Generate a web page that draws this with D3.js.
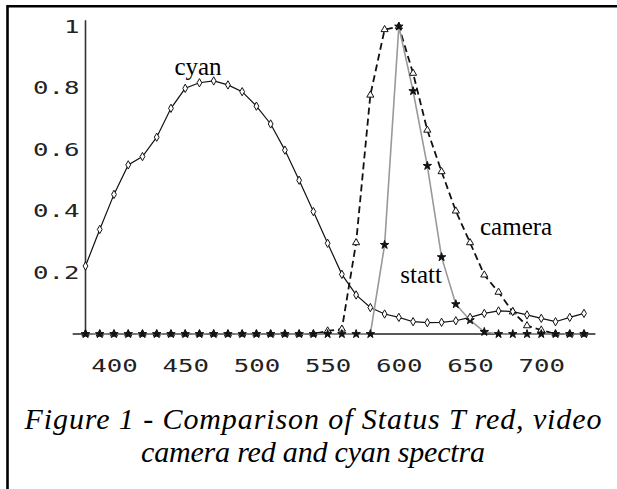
<!DOCTYPE html>
<html>
<head>
<meta charset="utf-8">
<script src="https://cdn.jsdelivr.net/npm/d3@7"></script>
<style>
  body { margin: 0; background: #fff; }
  .tick text { font-family: "DejaVu Sans Mono", monospace; font-size: 18px; fill: #222; }
  .lbl { font-family: "Liberation Serif", "Times New Roman", serif; font-size: 25px; fill: #000; }
  .caption { font-family: "Liberation Serif", "Times New Roman", serif; font-style: italic; font-size: 30px; fill: #000; }
</style>
</head>
<body>
<div id="chart"></div>
<script>
// wavelengths (nm) sampled every 10 nm
var wavelengths = [380, 390, 400, 410, 420, 430, 440, 450, 460, 470, 480, 490,
                   500, 510, 520, 530, 540, 550, 560, 570, 580, 590, 600, 610,
                   620, 630, 640, 650, 660, 670, 680, 690, 700, 710, 720, 730];

var cyanValues = [0.221, 0.34, 0.454, 0.55, 0.577, 0.64, 0.734, 0.799, 0.817, 0.823, 0.81, 0.788,
                  0.741, 0.683, 0.598, 0.50, 0.398, 0.295, 0.194, 0.127, 0.086, 0.065, 0.054, 0.04,
                  0.037, 0.038, 0.043, 0.054, 0.067, 0.075, 0.073, 0.062, 0.051, 0.04, 0.054, 0.067];

var cameraValues = [0, 0, 0, 0, 0, 0, 0, 0, 0, 0, 0, 0,
                    0, 0, 0, 0, 0, 0.01, 0.016, 0.297, 0.777, 0.99, 1.0, 0.848,
                    0.663, 0.528, 0.40, 0.297, 0.192, 0.136, 0.072, 0.027, 0.013, 0, 0, 0];

var statValues = [0, 0, 0, 0, 0, 0, 0, 0, 0, 0, 0, 0,
                  0, 0, 0, 0, 0, 0, 0, 0, 0, 0.29, 1.0, 0.79,
                  0.547, 0.25, 0.097, 0.045, 0.007, 0, 0, 0, 0, 0, 0, 0];

var xTicks = [400, 450, 500, 550, 600, 650, 700];
var yTicks = [0.2, 0.4, 0.6, 0.8, 1];

// curve labels, anchored in data units
var curveLabels = [
  {text: "cyan",   nm: 459, v: 0.842, anchor: "middle"},
  {text: "camera", nm: 657, v: 0.322, anchor: "start"},
  {text: "statt",  nm: 601, v: 0.166, anchor: "start"}
];

var captionLines = ["Figure 1 - Comparison of Status T red, video",
                    "camera red and cyan spectra"];
var captionWidths = [577, 344];

var width = 617, height = 489;

var svg = d3.select("#chart").append("svg")
    .attr("width", width)
    .attr("height", height);

var x = d3.scaleLinear().domain([380, 730]).range([85.5, 584]);
var y = d3.scaleLinear().domain([0, 1]).range([334, 26.5]);

// frame (top and left only)
svg.append("path")
    .attr("d", "M7.5," + height + "V6.2H" + width)
    .attr("fill", "none")
    .attr("stroke", "#000")
    .attr("stroke-width", 2.6);

// axes
var yAxis = svg.append("g")
    .attr("transform", "translate(" + x(380) + ",0)")
    .call(d3.axisLeft(y).tickValues(yTicks).tickSize(0).tickPadding(6)
      .tickFormat(function(d) { return d === 1 ? "1" : d3.format(".1f")(d); }));
yAxis.select(".domain").remove();

var xAxis = svg.append("g")
    .attr("transform", "translate(0," + y(0) + ")")
    .call(d3.axisBottom(x).tickValues(xTicks).tickSize(0).tickPadding(25));
xAxis.select(".domain").remove();

svg.selectAll(".tick text")
    .attr("textLength", function() { return this.textContent.length * 15.5; })
    .attr("lengthAdjust", "spacingAndGlyphs");

svg.append("line")
    .attr("x1", x(380)).attr("x2", x(380))
    .attr("y1", y(1.02)).attr("y2", y(0))
    .attr("stroke", "#333").attr("stroke-width", 1.6);

svg.append("line")
    .attr("x1", x(371)).attr("x2", x(738))
    .attr("y1", y(0)).attr("y2", y(0))
    .attr("stroke", "#222").attr("stroke-width", 1.6);

function series(vals) {
  return wavelengths.map(function(w, i) { return {w: w, v: vals[i]}; });
}

var line = d3.line()
    .x(function(d) { return x(d.w); })
    .y(function(d) { return y(d.v); });

var cameraData = series(cameraValues),
    statData = series(statValues),
    cyanData = series(cyanValues);

svg.append("path")
    .datum(cameraData)
    .attr("d", line)
    .attr("fill", "none")
    .attr("stroke", "#111")
    .attr("stroke-width", 1.8)
    .attr("stroke-dasharray", "7,4");

svg.append("path")
    .datum(cyanData)
    .attr("d", line)
    .attr("fill", "none")
    .attr("stroke", "#111")
    .attr("stroke-width", 1.2);

svg.append("path")
    .datum(statData)
    .attr("d", line)
    .attr("fill", "none")
    .attr("stroke", "#999")
    .attr("stroke-width", 1.6);

// markers
function markers(data, type, size, fill) {
  svg.append("g").selectAll("path")
    .data(data)
    .enter().append("path")
      .attr("transform", function(d) { return "translate(" + x(d.w) + "," + y(d.v) + ")"; })
      .attr("d", d3.symbol().type(type).size(size))
      .attr("fill", fill)
      .attr("stroke", "#111")
      .attr("stroke-width", 1);
}

markers(cameraData, d3.symbolTriangle, 22, "#fff");
markers(statData, d3.symbolStar, 22, "#111");
markers(cyanData, d3.symbolDiamond, 20, "#fff");

// curve labels
svg.selectAll(".lbl")
    .data(curveLabels)
    .enter().append("text")
      .attr("class", "lbl")
      .attr("x", function(d) { return x(d.nm); })
      .attr("y", function(d) { return y(d.v); })
      .attr("text-anchor", function(d) { return d.anchor; })
      .text(function(d) { return d.text; });

// caption
svg.selectAll(".caption")
    .data(captionLines)
    .enter().append("text")
      .attr("class", "caption")
      .attr("x", 313)
      .attr("y", function(d, i) { return 429 + i * 33; })
      .attr("text-anchor", "middle")
      .attr("textLength", function(d, i) { return captionWidths[i]; })
      .attr("lengthAdjust", "spacing")
      .text(function(d) { return d; });
</script>
</body>
</html>
